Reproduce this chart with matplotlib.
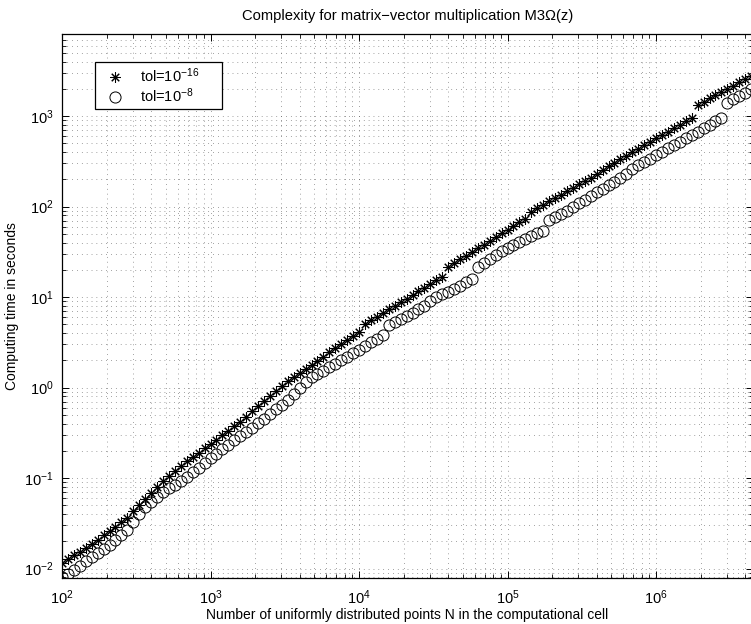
import matplotlib
matplotlib.use("Agg")
import matplotlib.pyplot as plt
from matplotlib.ticker import LogLocator, NullFormatter

# Number of points N (x axis)
N = [100, 110, 120, 132, 145, 158, 174, 191, 209, 229, 251, 275, 302, 331, 363, 398, 437, 479, 525, 575, 631, 692, 759, 832, 912,
     1000, 1096, 1202, 1318, 1445, 1585, 1738, 1905, 2089, 2291, 2512, 2754, 3020, 3311, 3631, 3981, 4365, 4786, 5248, 5754, 6310, 6918, 7586, 8318, 9120,
     10000, 10965, 12023, 13183, 14454, 15849, 17378, 19055, 20893, 22909, 25119, 27542, 30200, 33113, 36308, 39811, 43652, 47863, 52481, 57544, 63096, 69183, 75858, 83176, 91201,
     100000, 109648, 120226, 131826, 144544, 158489, 173780, 190546, 208930, 229087, 251189, 275423, 301995, 331131, 363078, 398107, 436516, 478630, 524807, 575440, 630957, 691831, 758578, 831764, 912011,
     1000000, 1096478, 1202264, 1318257, 1445440, 1584893, 1737801, 1905461, 2089296, 2290868, 2511886, 2754229, 3019952, 3311311, 3630781, 3981072, 4365158]

# Computing time (s) for tol=1e-16
time_tol16 = [0.0115, 0.0127, 0.0140, 0.0154, 0.0170, 0.0187, 0.0208, 0.0233, 0.0260, 0.0291,
              0.0326, 0.0364, 0.0427, 0.0498, 0.0583, 0.0681, 0.0793, 0.0917, 0.104, 0.119,
              0.135, 0.153, 0.172, 0.191, 0.214, 0.239, 0.266, 0.298, 0.332, 0.372,
              0.415, 0.471, 0.544, 0.626, 0.715, 0.810, 0.920, 1.044, 1.183, 1.323,
              1.461, 1.613, 1.786, 1.977, 2.201, 2.443, 2.711, 3.017, 3.349, 3.726,
              4.105, 5.031, 5.527, 6.058, 6.656, 7.295, 7.994, 8.784, 9.625, 10.57,
              11.59, 12.70, 13.96, 15.29, 16.85, 21.57, 23.70, 26.03, 28.60, 31.50,
              34.52, 37.93, 41.78, 45.91, 50.44, 55.41, 60.87, 66.90, 72.77, 88.07,
              95.8, 104.4, 113.9, 124.2, 135.4, 147.6, 160.9, 175.5, 191.3, 208.6,
              229.8, 252.5, 277.4, 305.6, 334.9, 365.1, 398.1, 435.2, 474.6, 518.7,
              565.6, 616.6, 674.2, 735.1, 803.5, 876.0, 955.2, 1333, 1443, 1569,
              1702, 1842, 2003, 2167, 2351, 2551, 2767]

# Computing time (s) for tol=1e-8
time_tol8 = [0.00806, 0.00878, 0.00972, 0.01079, 0.01201, 0.01333, 0.01480, 0.01647, 0.01827, 0.02065,
             0.02351, 0.0269, 0.0329, 0.0400, 0.0477, 0.0544, 0.0623, 0.0699, 0.0768, 0.0846,
             0.0929, 0.1020, 0.1153, 0.1299, 0.1469, 0.1655, 0.1865, 0.2091, 0.2339, 0.2617,
             0.2919, 0.3248, 0.3614, 0.4011, 0.451, 0.508, 0.573, 0.647, 0.731, 0.848,
             0.997, 1.153, 1.299, 1.413, 1.537, 1.672, 1.818, 1.993, 2.184, 2.393,
             2.623, 2.874, 3.158, 3.452, 3.774, 4.892, 5.294, 5.743, 6.215, 6.742,
             7.295, 7.955, 8.986, 9.90, 10.68, 11.50, 12.41, 13.40, 14.50, 15.77,
             21.73, 23.99, 26.50, 29.19, 32.07, 34.52, 37.26, 40.22, 43.30, 46.73,
             50.44, 54.29, 70.39, 76.17, 82.41, 90.09, 98.74, 108.5, 118.9, 130.6,
             143.2, 156.9, 171.9, 188.4, 208.6, 231.5, 257.0, 285.3, 310.2, 339.2,
             368.9, 402.2, 438.5, 478.3, 521.4, 568.5, 618.3, 674.2, 735.1, 801.5,
             873.8, 950.4, 1399, 1526, 1668, 1818, 1988]

labels = ["tol=10$^{-16}$", "tol=10$^{-8}$"]


def main():
    plt.rcParams["font.family"] = ["Liberation Sans", "DejaVu Sans"]
    plt.rcParams["mathtext.default"] = "regular"
    plt.rcParams["font.size"] = 10

    fig = plt.figure(figsize=(7.51, 6.24), dpi=100)
    # axes run slightly past the right edge (the original was cropped there)
    ax = fig.add_axes([0.0826, 0.0732, 0.9201, 0.8723])

    # MATLAB style '*' = plus + cross, 8 spokes
    ax.loglog(N, time_tol16, linestyle="none", marker=(8, 2, 0), markersize=7.5,
              markeredgewidth=0.75, color="k", label=labels[0])
    ax.loglog(N, time_tol8, linestyle="none", marker="o", markersize=8,
              markerfacecolor="none", markeredgecolor="k", markeredgewidth=0.7,
              label=labels[1])

    ax.set_xlim(100, 10 ** 6.653)
    ax.set_ylim(10 ** -2.108, 10 ** 3.906)

    ax.xaxis.set_major_locator(LogLocator(base=10, numticks=20))
    ax.yaxis.set_major_locator(LogLocator(base=10, numticks=20))
    ax.xaxis.set_minor_locator(LogLocator(base=10, subs=range(2, 10), numticks=50))
    ax.yaxis.set_minor_locator(LogLocator(base=10, subs=range(2, 10), numticks=50))
    ax.xaxis.set_minor_formatter(NullFormatter())
    ax.yaxis.set_minor_formatter(NullFormatter())

    # dotted grid on every decade and sub-decade
    ax.grid(True, which="both", color="0.3", linewidth=0.5, linestyle=(0, (1, 6)))
    ax.set_axisbelow(True)

    ax.tick_params(which="both", direction="in", top=True, right=True, colors="k")
    ax.tick_params(which="major", length=5, width=0.7, labelsize=10.5)
    ax.tick_params(axis="x", which="major", pad=7)
    ax.tick_params(axis="y", which="major", pad=6)
    ax.tick_params(which="minor", length=3, width=0.6)
    for s in ax.spines.values():
        s.set_linewidth(0.9)

    ax.set_title("Complexity for matrix\u2212vector multiplication M3\u03a9(z)", fontsize=10.6, pad=10)
    ax.set_xlabel("Number of uniformly distributed points N in the computational cell", fontsize=10, labelpad=1)
    ax.set_ylabel("Computing time in seconds", fontsize=10, labelpad=4)

    # legend box stretched to the width of the original one
    leg = ax.legend(loc="upper left", bbox_to_anchor=(0.0478, 0.8586, 0.184, 0.09),
                    mode="expand", borderaxespad=0,
                    numpoints=1, handlelength=2.2, handletextpad=0.55, borderpad=0.3,
                    labelspacing=0.1, fancybox=False, framealpha=1, fontsize=10.5)
    leg.get_frame().set_edgecolor("k")
    leg.get_frame().set_linewidth(0.9)

    fig.savefig("out.png", dpi=100)


if __name__ == "__main__":
    main()
